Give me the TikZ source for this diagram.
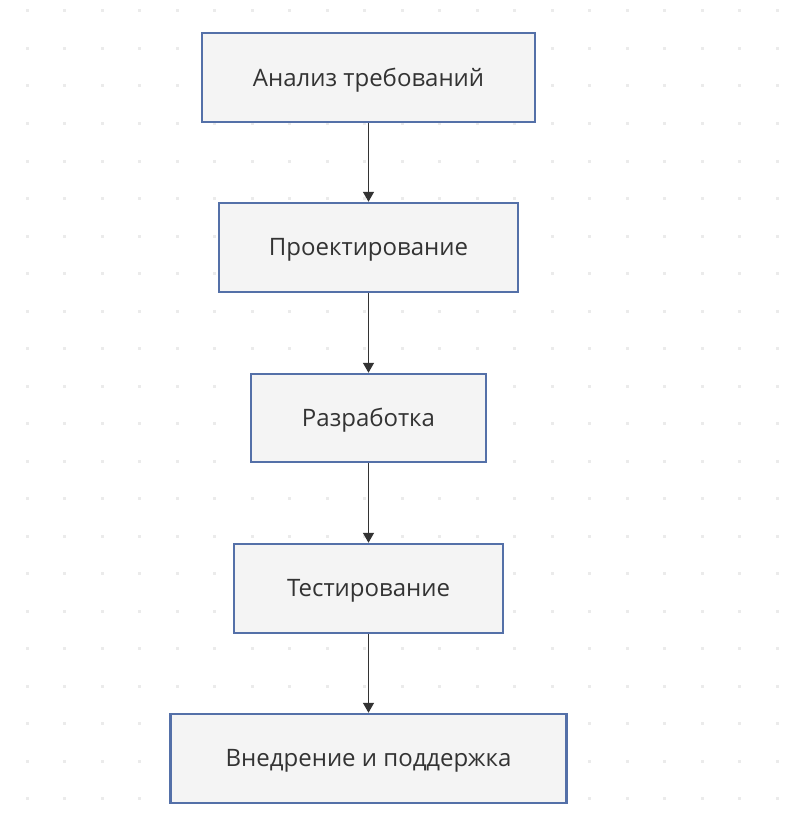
\documentclass[tikz,border=0pt]{standalone}
\usepackage{fontspec}
\setmainfont{Open Sans}
\usetikzlibrary{arrows.meta}
\definecolor{boxfill}{HTML}{F4F4F4}
\definecolor{boxline}{HTML}{5470A8}
\definecolor{txt}{HTML}{333333}
\definecolor{dotc}{HTML}{EBEBEB}
\tikzset{
  stepbox/.style={draw=boxline, line width=2.5pt, fill=boxfill, text=txt, font=\fontsize{24}{28}\selectfont, inner sep=0pt, anchor=center, text depth=0.2ex},
  flow/.style={draw=txt, line width=1.4pt, -{Triangle[length=10pt,width=11pt]}},
}
\begin{document}
\begin{tikzpicture}[x=1pt,y=-1pt]
\useasboundingbox (0,0) rectangle (811,832);
\fill[white] (0,0) rectangle (811,832);
\foreach \i in {0,...,21}{
  \foreach \j in {0,...,22}{
    \fill[dotc] ({27+37.5*\i-1.5},{11+37.5*\j-1.5}) rectangle ++(3,3);
  }
}
\node[stepbox, minimum width=333pt, minimum height=89pt] (a) at (368.5,77.5) {Анализ требований};
\node[stepbox, minimum width=299pt, minimum height=89pt] (b) at (368.5,247.5) {Проектирование};
\node[stepbox, minimum width=235pt, minimum height=88pt] (c) at (368.5,418) {Разработка};
\node[stepbox, minimum width=269pt, minimum height=89pt] (d) at (368.5,588.5) {Тестирование};
\node[stepbox, minimum width=396pt, minimum height=89pt] (e) at (368.5,758.5) {Внедрение и поддержка};
\draw[flow] (a) -- (b);
\draw[flow] (b) -- (c);
\draw[flow] (c) -- (d);
\draw[flow] (d) -- (e);
\end{tikzpicture}
\end{document}
